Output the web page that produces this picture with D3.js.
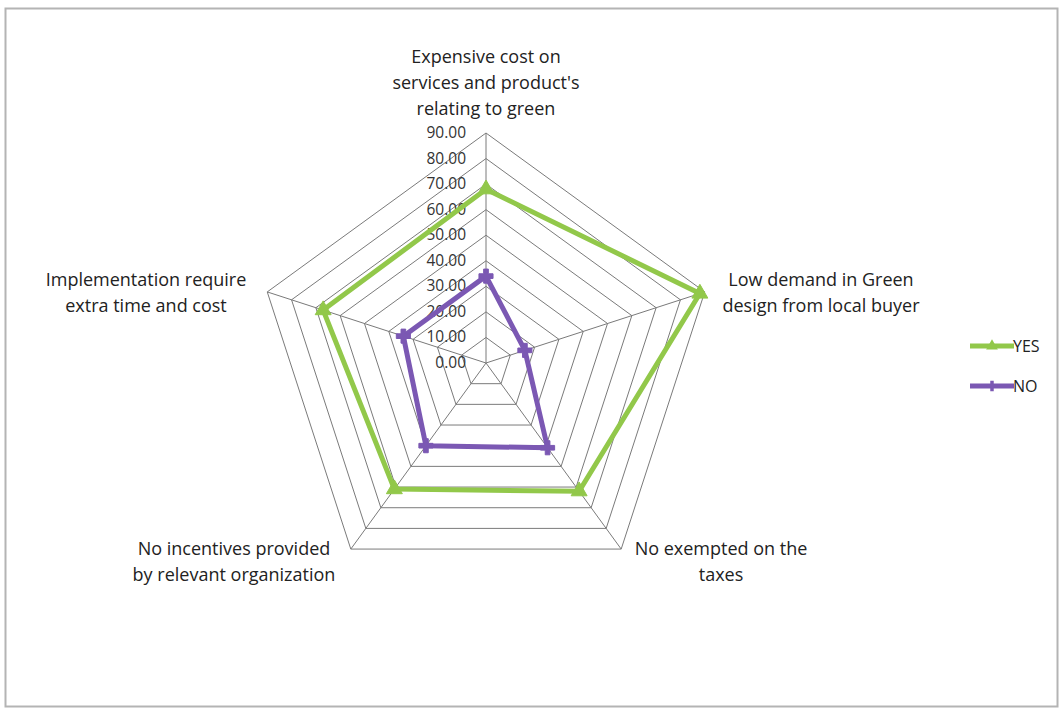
<!DOCTYPE html>
<html>
<head>
<meta charset="utf-8">
<script src="https://cdnjs.cloudflare.com/ajax/libs/d3/7.8.5/d3.min.js"></script>
<style>
  body { margin: 0; background: #fff; }
  text { font-family: "Open Sans", sans-serif; fill: #222; }
</style>
</head>
<body>
<div id="chart"></div>
<script>
// Chart data
const categories = [
  ["Expensive cost on", "services and product's", "relating to green"],
  ["Low demand in Green", "design from local buyer"],
  ["No exempted on the", "taxes"],
  ["No incentives provided", "by relevant organization"],
  ["Implementation require", "extra time and cost"]
];
const yesValues = [68, 88, 62, 61, 67];
const noValues = [34, 16, 41, 40, 34];
const ticks = [0, 10, 20, 30, 40, 50, 60, 70, 80, 90];

const width = 1062;
const height = 713;
const cx = 486, cy = 363;
const radius = 230;

const green = "#92C84A";
const purple = "#7B58B3";

const svg = d3.select("#chart")
    .append("svg")
    .attr("width", width)
    .attr("height", height);

// outer frame
svg.append("rect")
    .attr("x", 5.5).attr("y", 8.5)
    .attr("width", 1052).attr("height", 698)
    .attr("fill", "none")
    .attr("stroke", "#b4b4b4")
    .attr("stroke-width", 2);

const r = d3.scaleLinear().domain([0, 90]).range([0, radius]);
const angle = i => i * 2 * Math.PI / categories.length;
const px = (i, v) => cx + r(v) * Math.sin(angle(i));
const py = (i, v) => cy - r(v) * Math.cos(angle(i));

const g = svg.append("g");

// grid rings
g.selectAll(".ring")
    .data(ticks.slice(1))
    .join("polygon")
    .attr("class", "ring")
    .attr("points", t => categories.map((c, i) => [px(i, t), py(i, t)].join(",")).join(" "))
    .attr("fill", "none")
    .attr("stroke", "#7a7a7a")
    .attr("stroke-width", 1);

// spokes
g.selectAll(".spoke")
    .data(categories)
    .join("line")
    .attr("x1", cx).attr("y1", cy)
    .attr("x2", (d, i) => px(i, 90))
    .attr("y2", (d, i) => py(i, 90))
    .attr("stroke", "#7a7a7a")
    .attr("stroke-width", 1);

// tick labels on the top axis
g.selectAll(".tick")
    .data(ticks)
    .join("text")
    .attr("x", cx - 20)
    .attr("y", t => cy - r(t) + 5)
    .attr("text-anchor", "end")
    .style("font-size", "15.5px")
    .style("fill", "#333")
    .text(t => t.toFixed(2));

// category labels
const labelPos = [
  { x: 486, y: 63, anchor: "middle" },
  { x: 821, y: 286, anchor: "middle" },
  { x: 721, y: 555, anchor: "middle" },
  { x: 234, y: 555, anchor: "middle" },
  { x: 146, y: 286, anchor: "middle" }
];
categories.forEach((lines, i) => {
  const t = svg.append("text")
      .attr("x", labelPos[i].x)
      .attr("y", labelPos[i].y)
      .attr("text-anchor", labelPos[i].anchor)
      .style("font-size", "18px");
  lines.forEach((l, k) => {
    t.append("tspan")
        .attr("x", labelPos[i].x)
        .attr("dy", k === 0 ? 0 : 26)
        .text(l);
  });
});

// series
const lineGen = d3.line().curve(d3.curveLinearClosed);

function drawSeries(values, color, marker) {
  const pts = values.map((v, i) => [px(i, v), py(i, v)]);
  g.append("path")
      .attr("d", lineGen(pts))
      .attr("fill", "none")
      .attr("stroke", color)
      .attr("stroke-width", 5)
      .attr("stroke-linejoin", "round");
  g.selectAll(null)
      .data(pts)
      .join("path")
      .attr("transform", d => `translate(${d[0]},${d[1]})`)
      .attr("d", d3.symbol().type(marker).size(marker === d3.symbolTriangle ? 110 : 110))
      .attr("fill", color)
      .attr("stroke", color)
      .attr("stroke-width", 1);
}

drawSeries(yesValues, green, d3.symbolTriangle);
drawSeries(noValues, purple, d3.symbolCross);

// legend
const legend = svg.append("g");
const legendItems = [
  { name: "YES", color: green, marker: d3.symbolTriangle, y: 346 },
  { name: "NO", color: purple, marker: d3.symbolCross, y: 386 }
];
legendItems.forEach(item => {
  legend.append("line")
      .attr("x1", 970).attr("x2", 1014)
      .attr("y1", item.y).attr("y2", item.y)
      .attr("stroke", item.color)
      .attr("stroke-width", 5);
  legend.append("path")
      .attr("transform", `translate(992,${item.y})`)
      .attr("d", d3.symbol().type(item.marker).size(60))
      .attr("fill", item.color);
  legend.append("text")
      .attr("x", 1013)
      .attr("y", item.y + 6)
      .style("font-size", "16px")
      .text(item.name);
});
</script>
</body>
</html>
